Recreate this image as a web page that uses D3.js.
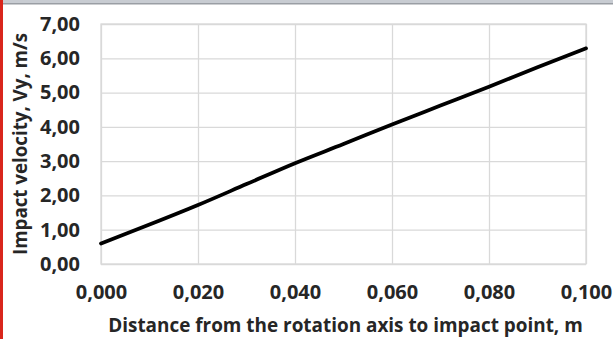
<!DOCTYPE html>
<html><head><meta charset="utf-8">
<script src="https://cdn.jsdelivr.net/npm/d3@7"></script>
<style>
html,body{margin:0;padding:0;background:#fff;}
svg{display:block;}
text{font-family:"Open Sans",sans-serif;font-weight:bold;fill:#262626;}
</style></head>
<body>
<svg id="c" width="613" height="339"></svg>
<script>
const distances = [0, 0.01, 0.02, 0.03, 0.04, 0.05, 0.06, 0.07, 0.08, 0.09, 0.10];
const velocities = [0.60, 1.15, 1.72, 2.33, 2.94, 3.50, 4.07, 4.62, 5.17, 5.74, 6.29];
const xTicks = [0, 0.02, 0.04, 0.06, 0.08, 0.10];
const yTicks = [0, 1, 2, 3, 4, 5, 6, 7];
const xTitle = "Distance from the rotation axis to impact point, m";
const yTitle = "Impact velocity, Vy, m/s";

const svg = d3.select("#c");
const W = 613, H = 339;
const m = {left:101, right:586, top:24, bottom:264};
const x = d3.scaleLinear().domain([0,0.1]).range([m.left,m.right]);
const y = d3.scaleLinear().domain([0,7]).range([m.bottom,m.top]);
const fmtX = v => d3.format(".3f")(v).replace(".", ",");
const fmtY = v => d3.format(".2f")(v).replace(".", ",");

// top bar and red left bar
svg.append("rect").attr("x",0).attr("y",0).attr("width",W).attr("height",3).attr("fill","#c8ccd2");
svg.append("rect").attr("x",0).attr("y",3).attr("width",W).attr("height",1.5).attr("fill","#9a9ea4");
svg.append("rect").attr("x",0).attr("y",0).attr("width",3).attr("height",H).attr("fill","#d9261c");

// grid
const gx = svg.append("g").attr("transform",`translate(0,${m.bottom})`)
  .call(d3.axisBottom(x).tickValues(xTicks).tickSize(-(m.bottom-m.top)).tickFormat(fmtX).tickPadding(21));
const gy = svg.append("g").attr("transform",`translate(${m.left},0)`)
  .call(d3.axisLeft(y).tickValues(yTicks).tickSize(-(m.right-m.left)).tickFormat(fmtY).tickPadding(21));
[gx,gy].forEach((g,i)=>{
  g.select(".domain").remove();
  g.selectAll(".tick line").attr("stroke","#d9d9d9").attr("stroke-width",1.3);
  g.selectAll(".tick text").attr("font-size",20).attr("font-family","Open Sans").attr("font-weight","bold").attr("fill","#262626");
});
svg.append("rect").attr("x",m.left).attr("y",m.top).attr("width",m.right-m.left).attr("height",m.bottom-m.top)
  .attr("fill","none").attr("stroke","#d9d9d9").attr("stroke-width",1.3);

// line
const line = d3.line().x((d,i)=>x(distances[i])).y(d=>y(d)).curve(d3.curveMonotoneX);
svg.append("path").datum(velocities).attr("d",line).attr("fill","none")
  .attr("stroke","#000").attr("stroke-width",3.8).attr("stroke-linecap","round");

// titles
const xt = svg.append("text").attr("x",(108+583)/2).attr("y",332).attr("text-anchor","middle")
  .attr("font-size",17).text(xTitle);
const xw = xt.node().getComputedTextLength();
xt.attr("font-size",17*475/xw);
const yt = svg.append("text").attr("transform","translate(26.5,144) rotate(-90)").attr("text-anchor","middle")
  .attr("font-size",17).text(yTitle);
const yw = yt.node().getComputedTextLength();
yt.attr("font-size",17*222/yw);
</script>
</body></html>
